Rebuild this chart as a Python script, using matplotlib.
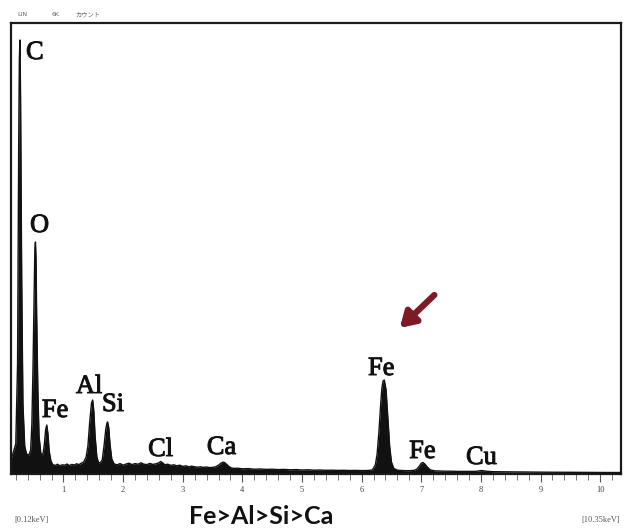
import matplotlib
matplotlib.use("Agg")
import matplotlib.pyplot as plt
import matplotlib.patheffects as pe
from matplotlib.ticker import MultipleLocator

# EDS spectrum: energy (keV) and counts along the trace
energy = [0.12, 0.16, 0.20, 0.23, 0.25, 0.26, 0.27, 0.28, 0.30, 0.32, 0.35, 0.38, 0.42,
          0.45, 0.47, 0.49, 0.51, 0.52, 0.53, 0.54, 0.55, 0.57, 0.59, 0.62, 0.64,
          0.66, 0.68, 0.70, 0.72, 0.74, 0.76, 0.79, 0.82, 0.86, 0.90, 0.94, 0.98,
          1.02, 1.06, 1.10, 1.14, 1.18, 1.22, 1.26, 1.30, 1.34, 1.38, 1.41, 1.44,
          1.47, 1.49, 1.51, 1.53, 1.56, 1.59, 1.62, 1.65, 1.68, 1.71, 1.73, 1.74,
          1.76, 1.78, 1.81, 1.85, 1.90, 1.95, 2.00, 2.05, 2.10, 2.15, 2.20, 2.25,
          2.30, 2.35, 2.40, 2.45, 2.50, 2.55, 2.60, 2.63, 2.67, 2.70, 2.75, 2.80,
          2.85, 2.90, 2.95, 3.00, 3.05, 3.10, 3.15, 3.20, 3.25, 3.30, 3.35, 3.40,
          3.45, 3.50, 3.55, 3.60, 3.64, 3.67, 3.70, 3.74, 3.78, 3.82, 3.87, 3.92,
          4.00, 4.10, 4.20, 4.30, 4.40, 4.50, 4.60, 4.70, 4.80, 4.90, 5.00, 5.10,
          5.20, 5.30, 5.40, 5.50, 5.60, 5.70, 5.80, 5.90, 6.00, 6.10, 6.18, 6.23,
          6.26, 6.29, 6.32, 6.34, 6.36, 6.38, 6.41, 6.44, 6.47, 6.50, 6.54, 6.60,
          6.70, 6.80, 6.88, 6.93, 6.97, 7.00, 7.03, 7.06, 7.10, 7.15, 7.22, 7.30,
          7.40, 7.50, 7.60, 7.70, 7.80, 7.90, 7.96, 8.00, 8.04, 8.10, 8.20, 8.35,
          8.50, 8.70, 8.90, 9.10, 9.30, 9.50, 9.70, 9.90, 10.10, 10.35]
counts = [150, 220, 300, 1100, 3400, 4150, 4340, 3800, 1900, 700, 280, 200, 190,
          240, 500, 1100, 1900, 2250, 2320, 2150, 1600, 850, 380, 210, 190,
          210, 300, 440, 490, 400, 230, 130, 95, 85, 98, 82, 92,
          88, 100, 84, 96, 90, 102, 94, 108, 120, 170, 280, 520,
          710, 740, 620, 380, 170, 110, 115, 140, 280, 450, 510, 520,
          460, 300, 150, 100, 92, 104, 88, 100, 108, 94, 104, 98,
          112, 98, 94, 106, 96, 102, 112, 125, 108, 92, 98, 86,
          92, 82, 88, 76, 82, 72, 78, 72, 68, 72, 66, 70,
          64, 66, 72, 88, 108, 118, 115, 95, 72, 60, 56, 58,
          52, 54, 48, 50, 46, 48, 44, 46, 42, 44, 40, 42,
          38, 40, 37, 38, 36, 37, 35, 36, 34, 35, 40, 90,
          200, 420, 700, 860, 930, 940, 840, 560, 280, 120, 55, 38,
          34, 33, 36, 50, 80, 108, 115, 100, 70, 42, 32, 30,
          28, 28, 26, 26, 25, 26, 30, 34, 33, 27, 23, 22,
          21, 20, 19, 18, 18, 17, 16, 16, 15, 15]

# Element labels: text, energy (keV), baseline height (counts)
label_text = ["C", "O", "Fe", "Al", "Si", "Cl", "Ca", "Fe", "Fe", "Cu"]
label_energy = [0.52, 0.60, 0.86, 1.43, 1.83, 2.63, 3.65, 6.33, 7.02, 8.01]
label_height = [4150, 2420, 570, 810, 630, 180, 200, 990, 160, 100]

x_range = (0.12, 10.35)
y_top = 4510
ranking = "Fe>Al>Si>Ca"

fig = plt.figure(figsize=(6.28, 5.32), dpi=100)
fig.patch.set_facecolor("white")
W, H = 628, 532
left, right, top, bottom = 11, 621, 23, 474
ax = fig.add_axes([left / W, 1 - bottom / H, (right - left) / W, (bottom - top) / H])

ax.fill_between(energy, 0, counts, color="#111111", lw=0, zorder=2)
ax.plot(energy, counts, color="#111111", lw=1.0, zorder=3)

ax.set_xlim(*x_range)
ax.set_ylim(0, y_top)

for s in ax.spines.values():
    s.set_linewidth(1.6)
    s.set_color("#1a1a1a")

ax.set_yticks([])
ax.xaxis.set_major_locator(MultipleLocator(1))
ax.xaxis.set_minor_locator(MultipleLocator(0.2))
ax.set_xticks(range(1, 11))
ax.tick_params(axis="x", which="major", direction="out", length=6, width=0.8,
               color="#555555", labelsize=6, labelcolor="#444444", pad=3)
ax.tick_params(axis="x", which="minor", direction="out", length=4, width=0.7,
               color="#777777")
for lab in ax.get_xticklabels():
    lab.set_family("Liberation Serif")

for t, e, h in zip(label_text, label_energy, label_height):
    ax.text(e, h, t, ha="center", va="baseline", fontsize=19,
            family="Liberation Serif", color="#111111", zorder=4,
            path_effects=[pe.withStroke(linewidth=0.7, foreground="#111111")])

ax.annotate("", xy=(6.64, 1460), xytext=(7.22, 1790),
            arrowprops=dict(arrowstyle="-|>,head_length=0.9,head_width=0.55",
                            color="#7d1a26", lw=4.5, shrinkA=0, shrinkB=0),
            zorder=5)

fig.text(17 / W, 1 - 15 / H, "LIN", fontsize=4.5, color="#666666", va="center")
fig.text(52 / W, 1 - 15 / H, "6K", fontsize=4.5, color="#666666", va="center")
fig.text(75 / W, 1 - 15 / H, "カウント", fontsize=4.5, color="#666666", va="center",
         family=["Noto Sans CJK JP", "DejaVu Sans"])

fig.text(14 / W, 1 - 520 / H, "[0.12keV]", fontsize=6, color="#555555", va="center",
         family="Liberation Serif")
fig.text(620 / W, 1 - 520 / H, "[10.35keV]", fontsize=6, color="#555555",
         va="center", ha="right", family="Liberation Serif")
fig.text(261 / W, 1 - 517 / H, ranking, fontsize=18, family="Lato", weight="bold",
         color="#111111", ha="center", va="center")

fig.savefig("out.png", dpi=100, facecolor="white")
